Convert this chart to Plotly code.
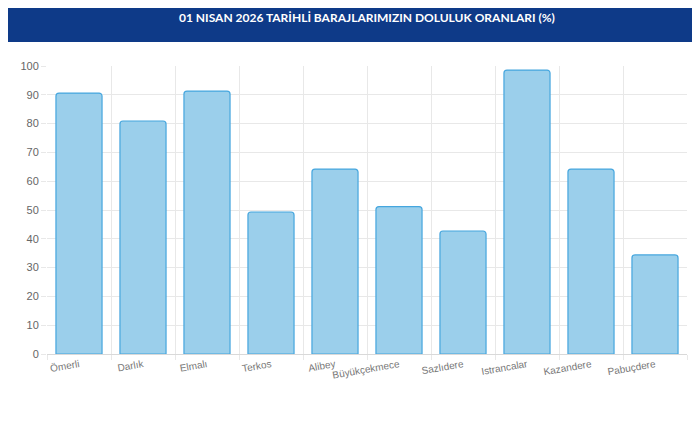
import plotly.graph_objects as go

categories = ["Ömerli", "Darlık", "Elmalı", "Terkos", "Alibey", "Büyükçekmece",
              "Sazlıdere", "Istrancalar", "Kazandere", "Pabuçdere"]
values = [90.6, 80.9, 91.3, 49.3, 64.2, 51.2, 42.7, 98.6, 64.2, 34.4]
y_ticks = list(range(0, 101, 10))

fig = go.Figure(go.Bar(
    x=categories, y=values,
    marker=dict(color="#9bcfeb", line=dict(color="#45a6de", width=1.2), cornerradius=3),
    width=0.72, hoverinfo="x+y",
))
H = 288
fig.add_shape(type="rect", xref="paper", yref="paper", x0=-0.2, x1=1.2,
              y0=1 + 24 / H, y1=1 + 80 / H, fillcolor="#0e3a88", line_width=0, layer="above")
fig.add_annotation(text="<b>01 NISAN 2026 TARİHLİ BARAJLARIMIZIN DOLULUK ORANLARI (%)</b>",
                   xref="paper", yref="paper", x=0.5, y=1 + 48 / H, showarrow=False,
                   font=dict(color="white", size=12, family="Lato"), xanchor="center", yanchor="middle")
fig.update_layout(
    width=700, height=429, margin=dict(l=34, r=21, t=58, b=83),
    plot_bgcolor="white", paper_bgcolor="white", showlegend=False,
    font=dict(family="Liberation Sans", size=11, color="#666"),
)
fig.update_xaxes(tickson="boundaries", showgrid=True, gridcolor="#e8e8e8", tickangle=-10,
                 ticks="outside", ticklen=5, tickcolor="#e8e8e8", showline=True, linecolor="#d9d9d9",
                 tickfont=dict(size=10, color="#777"))
fig.update_yaxes(range=[0, 100], tickvals=y_ticks, showgrid=True, gridcolor="#e8e8e8",
                 zeroline=False, ticks="outside", ticklen=5, tickcolor="#e8e8e8",
                 tickfont=dict(size=11, color="#666"))
fig.write_html("out.html")
